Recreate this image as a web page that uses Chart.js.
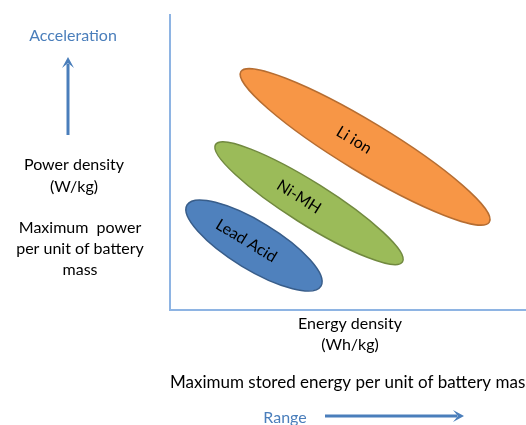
<!DOCTYPE html>
<html>
<head>
<meta charset="utf-8">
<script src="https://cdn.jsdelivr.net/npm/chart.js@4/dist/chart.umd.min.js"></script>
<style>
  html, body { margin: 0; padding: 0; background: #fff; }
  #wrap { width: 526px; height: 425px; position: relative; }
</style>
</head>
<body>
<div id="wrap"><canvas id="myChart"></canvas></div>
<script>
"use strict";

// battery types and the two ends of each band (relative energy / power density)
let batteryTypes = ["Lead Acid", "Ni-MH", "Li ion"];
let energyLowEnd = [4.8, 12.8, 19.9];
let powerHighEnd = [35.6, 56.1, 80.8];
let energyHighEnd = [42.4, 65.3, 89.7];
let powerLowEnd = [8.1, 16.3, 29.8];

// looks of each band
let bandLooks = [
    { fill: "#4F81BD", stroke: "#385D8A", half: 24, shift: -9 },
    { fill: "#9BBB59", stroke: "#71893F", half: 21, shift: -12 },
    { fill: "#F79646", stroke: "#B66D31", half: 25, shift: -13 }
];

let blueText = "#4A7EBB";
let font = "Lato, 'Open Sans', sans-serif";

let datasets = batteryTypes.map((name, i) => ({
    label: name,
    data: [
        { x: energyLowEnd[i], y: powerHighEnd[i] },
        { x: energyHighEnd[i], y: powerLowEnd[i] }
    ],
    pointRadius: 0,
    showLine: false
}));

// draws each band as an ellipse between its two end points
let ellipsePlugin = {
    id: "ellipses",
    beforeDatasetsDraw(chart) {
        let ctx = chart.ctx;
        chart.data.datasets.forEach((ds, i) => {
            let pts = chart.getDatasetMeta(i).data;
            let look = bandLooks[i];
            let x1 = pts[0].x, y1 = pts[0].y, x2 = pts[1].x, y2 = pts[1].y;
            let cx = (x1 + x2) / 2, cy = (y1 + y2) / 2;
            let ang = Math.atan2(y2 - y1, x2 - x1);
            let len = Math.hypot(x2 - x1, y2 - y1) / 2;

            ctx.save();
            ctx.beginPath();
            ctx.ellipse(cx, cy, len, look.half, ang, 0, Math.PI * 2);
            ctx.fillStyle = look.fill;
            ctx.fill();
            ctx.lineWidth = 1.5;
            ctx.strokeStyle = look.stroke;
            ctx.stroke();

            ctx.translate(cx, cy);
            ctx.rotate(ang);
            ctx.fillStyle = "#000";
            ctx.font = "16px " + font;
            ctx.textAlign = "center";
            ctx.textBaseline = "middle";
            ctx.fillText(ds.label, look.shift, 0);
            ctx.restore();
        });
    }
};

function arrow(ctx, x1, y1, x2, y2) {
    let ang = Math.atan2(y2 - y1, x2 - x1);
    let head = 11;
    ctx.save();
    ctx.strokeStyle = blueText;
    ctx.fillStyle = blueText;
    ctx.lineWidth = 3;
    ctx.beginPath();
    ctx.moveTo(x1, y1);
    ctx.lineTo(x2 - head * 0.6 * Math.cos(ang), y2 - head * 0.6 * Math.sin(ang));
    ctx.stroke();
    ctx.beginPath();
    ctx.moveTo(x2, y2);
    ctx.lineTo(x2 - head * Math.cos(ang) + 6 * Math.sin(ang), y2 - head * Math.sin(ang) - 6 * Math.cos(ang));
    ctx.lineTo(x2 - head * 0.55 * Math.cos(ang), y2 - head * 0.55 * Math.sin(ang));
    ctx.lineTo(x2 - head * Math.cos(ang) - 6 * Math.sin(ang), y2 - head * Math.sin(ang) + 6 * Math.cos(ang));
    ctx.closePath();
    ctx.fill();
    ctx.restore();
}

// the side notes and arrows round the plot
let notesPlugin = {
    id: "notes",
    afterDraw(chart) {
        let ctx = chart.ctx;
        ctx.save();
        ctx.font = "16px " + font;
        ctx.textBaseline = "middle";
        ctx.textAlign = "center";

        ctx.fillStyle = blueText;
        ctx.fillText("Acceleration", 73, 36);
        ctx.fillText("Range", 285, 418);

        ctx.fillStyle = "#000";
        ctx.fillText("Power density", 74, 165);
        ctx.fillText("(W/kg)", 74, 187);
        ctx.fillText("Maximum  power", 80, 228);
        ctx.fillText("per unit of battery", 80, 249);
        ctx.fillText("mass", 80, 270);

        ctx.fillText("Energy density", 350, 324);
        ctx.fillText("(Wh/kg)", 350, 345);

        ctx.textAlign = "left";
        ctx.font = "17px " + font;
        ctx.fillText("Maximum stored energy per unit of battery mass", 170, 383);
        ctx.restore();

        arrow(ctx, 68, 135, 68, 57);
        arrow(ctx, 325, 416, 464, 416);
    }
};

let ctxEl = document.getElementById("myChart");

new Chart(ctxEl, {
    type: "scatter",
    data: { datasets: datasets },
    options: {
        responsive: true,
        maintainAspectRatio: false,
        animation: false,
        layout: { padding: { left: 162, top: 15, right: 0, bottom: 107 } },
        plugins: {
            legend: { display: false },
            tooltip: { enabled: false }
        },
        scales: {
            x: {
                min: 0,
                max: 100,
                grid: { display: false },
                ticks: { display: false },
                border: { display: true, color: "#8EB4E3", width: 2 }
            },
            y: {
                min: 0,
                max: 100,
                grid: { display: false },
                ticks: { display: false },
                border: { display: true, color: "#8EB4E3", width: 2 }
            }
        }
    },
    plugins: [ellipsePlugin, notesPlugin]
});
</script>
</body>
</html>
